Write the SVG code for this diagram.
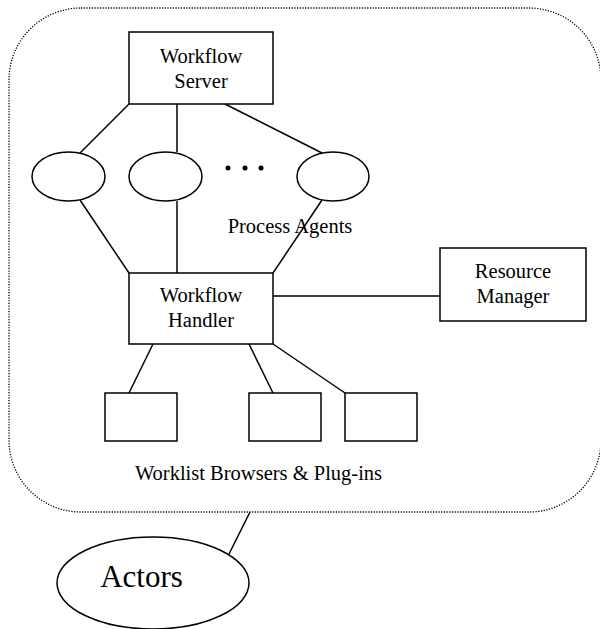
<svg xmlns="http://www.w3.org/2000/svg" width="600" height="629" viewBox="0 0 600 629">
<style>
.b{fill:#fff;stroke:#000;stroke-width:1.5}
.l{stroke:#000;stroke-width:1.5;fill:none}
.t{font-family:"Liberation Serif","Times New Roman",serif;font-size:20.5px;fill:#000;text-anchor:middle}
</style>
<rect width="600" height="629" fill="#fff"/>
<g id="boundary"><rect x="9" y="8" width="592" height="504" rx="72" ry="72" fill="none" stroke="#000" stroke-width="1.3" stroke-dasharray="1.2,1.5"/></g>
<g id="connectors">
<line class="l" x1="129" y1="104" x2="80" y2="153"/>
<line class="l" x1="177" y1="104" x2="177" y2="152"/>
<line class="l" x1="225" y1="104" x2="322" y2="153"/>
<line class="l" x1="80" y1="200" x2="129" y2="273"/>
<line class="l" x1="177" y1="201" x2="177" y2="273"/>
<line class="l" x1="322" y1="200" x2="273" y2="273"/>
<line class="l" x1="273" y1="296" x2="440" y2="296"/>
<line class="l" x1="153" y1="344" x2="129" y2="393"/>
<line class="l" x1="249" y1="344" x2="273" y2="393"/>
<line class="l" x1="273" y1="344" x2="345" y2="393"/>
<line class="l" x1="250" y1="512" x2="226" y2="560"/>
</g>
<g id="workflow-server"><rect class="b" x="129" y="32" width="144" height="72"/><text class="t" x="201" y="63">Workflow</text><text class="t" x="201" y="88">Server</text></g>
<g id="agent1"><ellipse class="b" cx="68.5" cy="176.5" rx="36.5" ry="24.5"/></g>
<g id="agent2"><ellipse class="b" cx="165.5" cy="176.5" rx="36.5" ry="24.5"/></g>
<g id="agent3"><ellipse class="b" cx="333" cy="176.5" rx="36" ry="24.5"/></g>
<g id="dots"><circle cx="228" cy="168" r="2.5"/><circle cx="245" cy="168" r="2.5"/><circle cx="261" cy="168" r="2.5"/></g>
<g id="process-agents-label"><text class="t" x="290" y="233">Process Agents</text></g>
<g id="workflow-handler"><rect class="b" x="129" y="273" width="144" height="71"/><text class="t" x="201" y="302">Workflow</text><text class="t" x="201" y="327">Handler</text></g>
<g id="resource-manager"><rect class="b" x="440" y="248" width="146" height="73"/><text class="t" x="513" y="278">Resource</text><text class="t" x="513" y="303">Manager</text></g>
<g id="browser1"><rect class="b" x="105" y="393" width="72" height="48"/></g>
<g id="browser2"><rect class="b" x="249" y="393" width="72" height="48"/></g>
<g id="browser3"><rect class="b" x="345" y="393" width="72" height="48"/></g>
<g id="browsers-label"><text class="t" x="258.5" y="480">Worklist Browsers &amp; Plug-ins</text></g>
<g id="actors"><ellipse class="b" cx="153" cy="583" rx="96" ry="46"/><text class="t" x="141.5" y="587" style="font-size:31px">Actors</text></g>
</svg>
